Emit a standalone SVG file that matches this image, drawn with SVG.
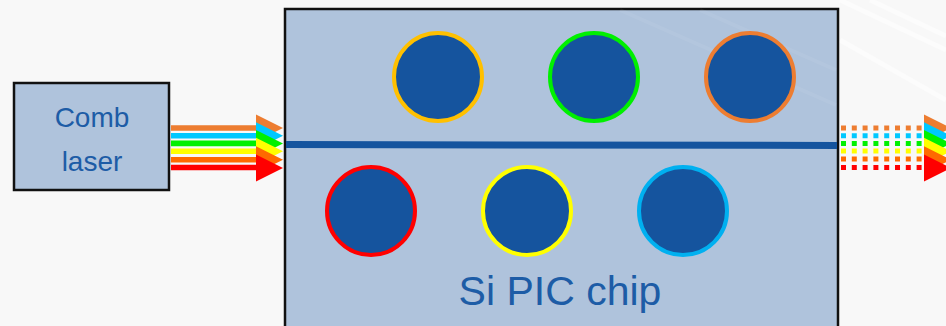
<svg xmlns="http://www.w3.org/2000/svg" width="946" height="326" viewBox="0 0 946 326">
  <style>
    .box { fill: #afc3dc; stroke: #111; stroke-width: 2.5; }
    .ring { fill: #15549e; stroke-width: 4; }
    .label { font-family: "Liberation Sans", Arial, sans-serif; fill: #1d5ca6; text-anchor: middle; }
    .beam { stroke-width: 5.6; fill: none; }
    .dots { stroke-width: 5; fill: none; stroke-dasharray: 5 5.8; }
  </style>
  <defs>
    <!-- one arrowhead, shared by all beam colours -->
    <polygon id="head" points="0,-13.5 27,0 0,13.5"/>
  </defs>

  <!-- page background with faint diagonal sheen -->
  <rect width="946" height="326" fill="#f8f8f8"/>
  <g stroke="#ffffff" stroke-opacity="0.5" stroke-width="5" fill="none">
    <line x1="840" y1="0" x2="946" y2="50"/>
    <line x1="870" y1="0" x2="946" y2="36"/>
    <line x1="840" y1="40" x2="946" y2="100"/>
  </g>

  <!-- comb laser source -->
  <g id="comb-laser">
    <rect class="box" x="14" y="83" width="155" height="107"/>
    <text class="label" x="92" y="127" font-size="28">Comb</text>
    <text class="label" x="92" y="171" font-size="28">laser</text>
  </g>

  <!-- silicon photonic chip -->
  <g id="si-pic-chip">
    <rect class="box" x="285" y="9" width="553" height="330"/>
    <g stroke="#ffffff" stroke-opacity="0.06" stroke-width="4" fill="none">
      <line x1="620" y1="10" x2="836" y2="105"/>
      <line x1="700" y1="10" x2="836" y2="70"/>
    </g>
    <text class="label" x="560" y="305" font-size="41">Si PIC chip</text>
  </g>

  <!-- bus waveguide -->
  <g id="bus-waveguide">
    <line x1="286" y1="144.5" x2="837" y2="145.5" stroke="#15549e" stroke-width="7"/>
  </g>

  <!-- ring resonators -->
  <g id="ring-1"><circle class="ring" cx="438" cy="77" r="44" stroke="#ffc000"/></g>
  <g id="ring-2"><circle class="ring" cx="594" cy="77" r="44" stroke="#00f000"/></g>
  <g id="ring-3"><circle class="ring" cx="750" cy="77" r="44" stroke="#ed7d31"/></g>
  <g id="ring-4"><circle class="ring" cx="371" cy="211" r="44" stroke="#ff0000"/></g>
  <g id="ring-5"><circle class="ring" cx="527" cy="211" r="44" stroke="#ffff00"/></g>
  <g id="ring-6"><circle class="ring" cx="683" cy="211" r="44" stroke="#00b0f0"/></g>

  <!-- connectors: comb lines into and out of the chip -->
  <g id="connectors">
    <g id="input-beams">
      <line class="beam" x1="171" y1="128" x2="257" y2="128" stroke="#ed7d31"/>
      <line class="beam" x1="171" y1="135.7" x2="257" y2="135.7" stroke="#00c8ff"/>
      <line class="beam" x1="171" y1="143.4" x2="257" y2="143.4" stroke="#00f000"/>
      <line class="beam" x1="171" y1="151.2" x2="257" y2="151.2" stroke="#ffff00"/>
      <line class="beam" x1="171" y1="159.7" x2="257" y2="159.7" stroke="#ff6a00"/>
      <line class="beam" x1="171" y1="167.5" x2="257" y2="167.5" stroke="#ff0000" stroke-width="6"/>
      <use href="#head" x="256" y="128" fill="#ed7d31"/>
      <use href="#head" x="256" y="135.7" fill="#00c8ff"/>
      <use href="#head" x="256" y="143.4" fill="#00f000"/>
      <use href="#head" x="256" y="151.2" fill="#ffff00"/>
      <use href="#head" x="256" y="159.7" fill="#ff6a00"/>
      <use href="#head" x="256" y="168" fill="#ff0000"/>
    </g>
    <g id="output-beams">
      <line class="dots" x1="841" y1="128" x2="922" y2="128" stroke="#ed7d31"/>
      <line class="dots" x1="841" y1="135.7" x2="922" y2="135.7" stroke="#00c8ff"/>
      <line class="dots" x1="841" y1="143.4" x2="922" y2="143.4" stroke="#00f000"/>
      <line class="dots" x1="841" y1="151" x2="922" y2="151" stroke="#ffff00"/>
      <line class="dots" x1="841" y1="159" x2="922" y2="159" stroke="#ff6a00"/>
      <line class="dots" x1="841" y1="167.5" x2="922" y2="167.5" stroke="#ff0000"/>
      <use href="#head" x="924" y="128" fill="#ed7d31"/>
      <use href="#head" x="924" y="135.7" fill="#00c8ff"/>
      <use href="#head" x="924" y="143.4" fill="#00f000"/>
      <use href="#head" x="924" y="151.2" fill="#ffff00"/>
      <use href="#head" x="924" y="159.7" fill="#ff6a00"/>
      <use href="#head" x="924" y="168" fill="#ff0000"/>
    </g>
  </g>
</svg>
